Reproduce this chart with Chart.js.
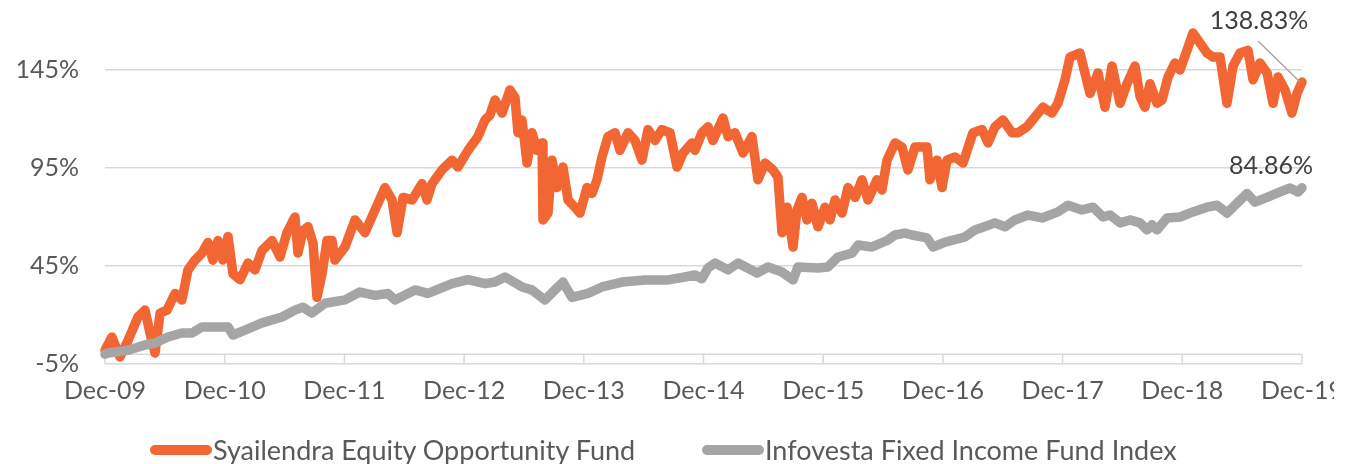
<!DOCTYPE html>
<html>
<head>
<meta charset="utf-8">
<script src="https://cdn.jsdelivr.net/npm/chart.js@4.4.1/dist/chart.umd.min.js"></script>
<style>
  html, body { margin: 0; padding: 0; background: #ffffff; }
  #wrap { position: relative; width: 1351px; height: 464px; overflow: hidden; }
  #clip { position: absolute; left: 0; top: 0; width: 1334px; height: 464px; overflow: hidden; }
  #legend { position: absolute; left: 0; top: 433px; width: 1351px; height: 33px;
            font-family: Lato, "Open Sans", sans-serif; font-size: 27px; color: #595959; }
  .item { position: absolute; top: 0; display: flex; align-items: center; white-space: nowrap; }
  .sw { display: inline-block; width: 62px; height: 10px; border-radius: 5px; margin-right: 1px; }
</style>
</head>
<body>
<div id="wrap">
  <div id="clip"><canvas id="c" width="1351" height="464"></canvas></div>
  <div id="legend"></div>
</div>
<script>
// ---- Data (years since Dec-09, cumulative return %) ----
const seriesNames = ["Syailendra Equity Opportunity Fund", "Infovesta Fixed Income Fund Index"];
const xTickLabels = ["Dec-09","Dec-10","Dec-11","Dec-12","Dec-13","Dec-14","Dec-15","Dec-16","Dec-17","Dec-18","Dec-19"];
const yTickValues = [-5, 45, 95, 145];
const endLabels = ["138.83%", "84.86%"];

const equityT = [0,0.058,0.125,0.192,0.276,0.334,0.376,0.418,0.46,0.518,0.585,0.643,0.693,0.752,0.81,0.86,0.902,0.944,0.986,1.028,
  1.069,1.128,1.195,1.253,1.312,1.395,1.462,1.52,1.587,1.612,1.654,1.696,1.738,1.771,1.813,1.855,1.896,1.921,2.005,2.089,
  2.172,2.256,2.339,2.398,2.44,2.49,2.565,2.648,2.69,2.732,2.815,2.899,2.949,3.033,3.116,3.175,3.216,3.258,3.317,3.383,
  3.425,3.45,3.484,3.526,3.567,3.609,3.651,3.659,3.701,3.734,3.776,3.826,3.868,3.926,3.968,4.027,4.069,4.11,4.152,4.202,
  4.261,4.302,4.369,4.428,4.486,4.536,4.595,4.653,4.72,4.779,4.829,4.904,4.929,4.987,5.038,5.079,5.163,5.205,5.263,5.33,
  5.405,5.455,5.514,5.58,5.622,5.656,5.698,5.748,5.781,5.823,5.865,5.906,5.956,6.015,6.057,6.099,6.157,6.207,6.266,6.324,
  6.374,6.449,6.491,6.533,6.6,6.658,6.708,6.767,6.867,6.892,6.951,6.993,7.034,7.101,7.168,7.251,7.327,7.377,7.435,7.502,
  7.577,7.627,7.703,7.769,7.836,7.911,7.961,7.995,8.02,8.062,8.145,8.229,8.296,8.354,8.413,8.48,8.538,8.605,8.647,8.688,
  8.73,8.789,8.83,8.881,8.939,8.981,9.039,9.089,9.148,9.206,9.256,9.315,9.373,9.424,9.482,9.549,9.591,9.649,9.708,9.758,
  9.8,9.858,9.916,9.958,10];
const equityV = [2,8.8,-1.4,7,19,22.5,10.8,0.6,21,22.5,31,27.7,43,48,51.6,57,48,58,48,60,
  41,38,46.5,43,53,58,49.6,62,70,51.6,63,65,56.7,29,41,58,58,48,54.7,68.5,
  62,73.6,85,78.7,62,80,78.7,87,78.7,87,94,99,95.5,104,111,119.5,122,129.7,123,134.8,
  131,113,119.5,97.5,113,104,107.8,68.5,72,99,85,95.5,78.7,75,72,85,82,89,100.6,111,
  113,104,113,109,99,114.6,109,114.6,113,95.5,102.6,107.8,104,113,116,109,120.5,111,113,102.6,
  111,89,97.5,94,90.4,62,75,54.7,73.6,80,68.5,77,65,75,68.5,78.7,72,85,80,89,
  78.7,89,83.8,99,107.8,105.7,94,105.7,105.7,89,99,85,99,100.6,97.5,113,114.6,107.8,116,119.5,
  113,113,116,121,126,123,128,134.8,140,151.6,153.7,133,143.5,126,147,128,138,147,131.5,126,
  138,128,129.7,141.4,148.6,145,155,163.9,158.8,153.7,151.6,151.6,128,147,153.7,155,140,148.6,143.5,128,
  141.4,134.8,123,133,138.83];

const bondT = [0,0.025,0.192,0.334,0.418,0.526,0.643,0.727,0.81,0.919,1.028,1.069,1.17,1.312,1.479,1.587,1.654,1.729,1.838,2.005,
  2.13,2.256,2.364,2.423,2.59,2.698,2.899,3.033,3.175,3.258,3.342,3.484,3.567,3.676,3.759,3.826,3.901,4.035,4.152,4.319,
  4.511,4.703,4.845,4.929,4.987,5.038,5.096,5.205,5.288,5.447,5.539,5.656,5.748,5.789,5.956,6.04,6.124,6.241,6.291,6.408,
  6.533,6.6,6.683,6.742,6.867,6.917,7.018,7.185,7.268,7.435,7.519,7.602,7.711,7.828,7.961,8.045,8.162,8.254,8.337,8.396,
  8.48,8.563,8.647,8.705,8.747,8.789,8.872,8.981,9.089,9.206,9.29,9.373,9.457,9.541,9.607,9.708,9.816,9.9,9.967,10];
const bondV = [0,0.6,2,4.7,5.7,8.8,10.8,10.8,13.9,13.9,13.9,9.8,12.3,16,19,22.5,24,21,26,27.7,
  31.7,30,31,27.7,32.8,31,36,38,36,36.8,39.4,34.3,32.8,27.7,32.8,36.8,29,31,34.3,36.8,
  37.9,37.9,39.4,40.4,38.5,44,46.5,43,46.5,41.4,44.5,41.9,37.9,44.5,44,44.5,49.6,51.6,55.7,54.7,
  58,60.8,61.8,60.8,59.3,54.7,57.2,59.8,63.4,67,65,68.5,71,69.5,72.6,76,73.6,75,70,71,
  67,68.5,67,63.4,66,63.4,69.5,70,72.6,75,76,72,77,82,77.6,80,82.8,84.8,82.8,84.86];

const colors = ["#F26633", "#A5A5A5"];
const FONT = "Lato, 'Open Sans', sans-serif";

// ---- HTML legend (real text) ----
const legendPos = [150, 702];
const legendEl = document.getElementById('legend');
seriesNames.forEach((n, i) => {
  const d = document.createElement('div');
  d.className = 'item';
  d.style.left = legendPos[i] + 'px';
  d.innerHTML = '<span class="sw" style="background:' + colors[i] + '"></span><span>' + n + '</span>';
  legendEl.appendChild(d);
});

// ---- plugins ----
const axisPlugin = {
  id: 'zeroAxis',
  beforeDatasetsDraw(chart) {
    const { ctx, chartArea, scales } = chart;
    const y0 = scales.y.getPixelForValue(0);
    ctx.save();
    ctx.strokeStyle = '#D9D9D9';
    ctx.lineWidth = 1.5;
    ctx.beginPath();
    ctx.moveTo(chartArea.left, y0);
    ctx.lineTo(chartArea.right, y0);
    xTickLabels.forEach((_, i) => {
      const x = scales.x.getPixelForValue(i);
      ctx.moveTo(x, y0);
      ctx.lineTo(x, chartArea.bottom);
    });
    ctx.stroke();
    ctx.restore();
  }
};

const endLabelPlugin = {
  id: 'endLabels',
  afterDatasetsDraw(chart) {
    const { ctx } = chart;
    const offsets = [{ dx: -43, dy: -61, leader: true }, { dx: -31, dy: -22, leader: false }];
    ctx.save();
    ctx.font = "25px " + FONT;
    ctx.fillStyle = '#404040';
    ctx.textAlign = 'center';
    ctx.textBaseline = 'middle';
    chart.data.datasets.forEach((ds, i) => {
      const meta = chart.getDatasetMeta(i);
      const pt = meta.data[meta.data.length - 1];
      const o = offsets[ds.seriesIndex];
      ctx.fillText(endLabels[ds.seriesIndex], pt.x + o.dx, pt.y + o.dy);
      if (o.leader) {
        ctx.strokeStyle = '#A5A5A5';
        ctx.lineWidth = 1.5;
        ctx.beginPath();
        ctx.moveTo(pt.x - 44, pt.y - 41);
        ctx.lineTo(pt.x - 2, pt.y);
        ctx.stroke();
      }
    });
    ctx.restore();
  }
};

const toPts = (T, V) => T.map((t, i) => ({ x: t, y: V[i] }));

new Chart(document.getElementById('c'), {
  type: 'line',
  data: {
    datasets: [
      { label: seriesNames[1], seriesIndex: 1, data: toPts(bondT, bondV), borderColor: colors[1], backgroundColor: colors[1],
        borderWidth: 9.5, pointRadius: 0, tension: 0, borderCapStyle: 'round', borderJoinStyle: 'round', order: 0, clip: false },
      { label: seriesNames[0], seriesIndex: 0, data: toPts(equityT, equityV), borderColor: colors[0], backgroundColor: colors[0],
        borderWidth: 9.5, pointRadius: 0, tension: 0, borderCapStyle: 'round', borderJoinStyle: 'round', order: 1, clip: false }
    ]
  },
  options: {
    responsive: false,
    animation: false,
    layout: { padding: { top: 10, right: 49, left: 0, bottom: 0 } },
    plugins: { legend: { display: false }, tooltip: { enabled: false } },
    scales: {
      x: {
        type: 'linear', min: 0, max: xTickLabels.length - 1,
        afterBuildTicks: (s) => { s.ticks = xTickLabels.map((_, i) => ({ value: i })); },
        afterFit: (s) => { s.height = 100; s.paddingLeft = 0; s.paddingRight = 0; },
        grid: { display: false, drawTicks: false },
        border: { display: false },
        ticks: { callback: (v) => xTickLabels[v], autoSkip: false, maxRotation: 0, padding: 12,
                 color: '#595959', font: { family: FONT, size: 25 } }
      },
      y: {
        min: -5, max: 175.6,
        afterBuildTicks: (s) => { s.ticks = yTickValues.map(v => ({ value: v })); },
        afterFit: (s) => { s.width = 105; s.paddingTop = 0; s.paddingBottom = 0; },
        grid: { color: '#D9D9D9', lineWidth: 1.5, drawTicks: false },
        border: { display: false },
        ticks: { callback: (v) => v + '%', padding: 26, color: '#595959', font: { family: FONT, size: 25 } }
      }
    }
  },
  plugins: [axisPlugin, endLabelPlugin]
});
</script>
</body>
</html>
